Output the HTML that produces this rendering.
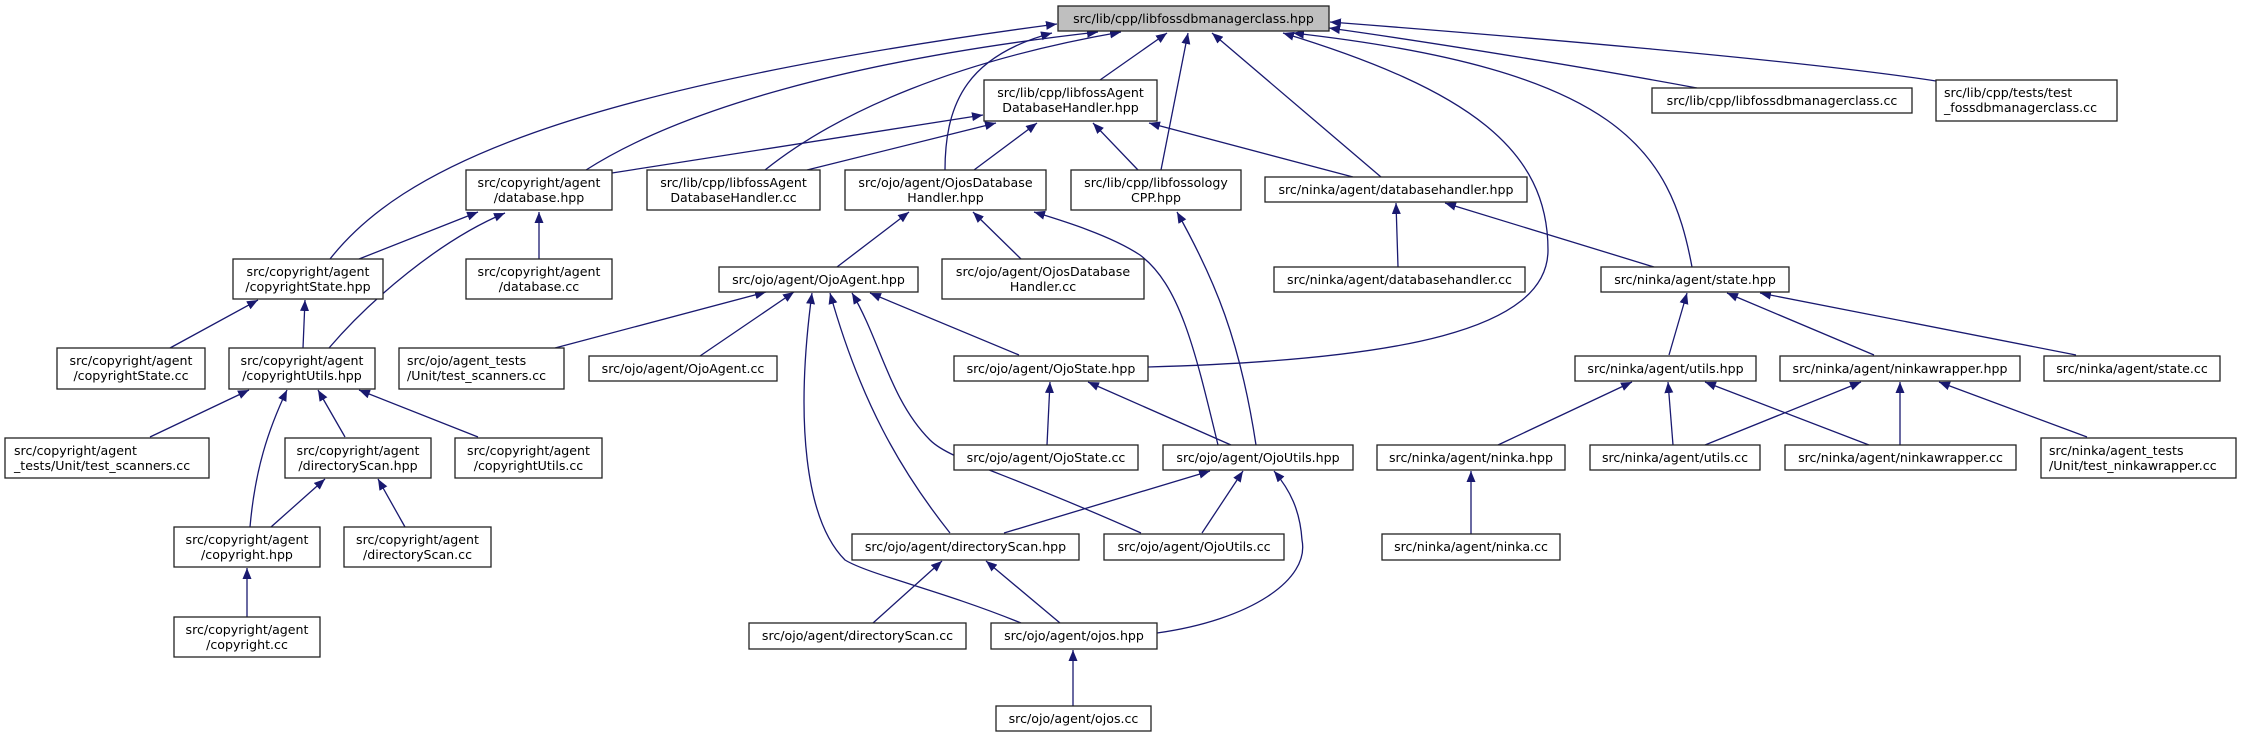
<!DOCTYPE html>
<html><head><meta charset="utf-8"><style>
html,body{margin:0;padding:0;background:#fff;}
svg{display:block;}
text{font-family:"DejaVu Sans","Liberation Sans",sans-serif;font-size:12.6px;fill:#000;}
.b{fill:#fff;stroke:#222;stroke-width:1.3;}
.e{fill:none;stroke:#191970;stroke-width:1.3;}
</style></head><body>
<svg width="2241" height="737" viewBox="0 0 2241 737" xmlns="http://www.w3.org/2000/svg">
<defs>
<marker id="a" markerUnits="userSpaceOnUse" markerWidth="12" markerHeight="10" refX="11" refY="4.5" orient="auto">
<path d="M0,0 L11,4.5 L0,9 z" fill="#191970"/>
</marker>
</defs>
<g class="e" marker-end="url(#a)">
<!-- to main -->
<path d="M330,259 C400,170 560,90 1057,24"/>
<path d="M586,170 C680,110 850,60 1098,32"/>
<path d="M765,170 C840,110 960,60 1121,32"/>
<path d="M945,170 C945,100 970,55 1052,33"/>
<path d="M1100,80 L1167,33"/>
<path d="M1161,170 L1188,33"/>
<path d="M1381,177 L1212,33"/>
<path d="M1148,367 C1400,360 1548,330 1548,250 C1548,150 1470,90 1283,33"/>
<path d="M1692,267 C1670,150 1620,70 1293,33"/>
<path d="M1697,88 C1600,70 1450,45 1329,28"/>
<path d="M1936,81 C1800,60 1500,35 1330,22"/>
<!-- to LH -->
<path d="M612,173 L983,115"/>
<path d="M807,170 L996,123"/>
<path d="M974,170 L1037,123"/>
<path d="M1138,170 L1093,123"/>
<path d="M1353,177 L1149,123"/>
<!-- DB -->
<path d="M359,259 L478,212"/>
<path d="M329,348 C370,300 440,240 505,213"/>
<path d="M539,259 L539,212"/>
<!-- CS -->
<path d="M170,348 L258,300"/>
<path d="M303,348 L305,300"/>
<!-- CU -->
<path d="M150,437 L249,390"/>
<path d="M250,527 C255,470 268,430 287,390"/>
<path d="M345,437 L318,390"/>
<path d="M478,437 L359,390"/>
<!-- CD -->
<path d="M271,527 L325,479"/>
<path d="M405,527 L378,479"/>
<path d="M247,617 L247,568"/>
<!-- OH -->
<path d="M837,267 L909,212"/>
<path d="M1021,259 L973,212"/>
<path d="M1218,445 C1195,350 1180,285 1140,255 C1110,235 1060,220 1034,212"/>
<path d="M1256,445 C1240,340 1215,280 1177,212"/>
<!-- OA -->
<path d="M555,348 L766,292"/>
<path d="M700,356 L794,292"/>
<path d="M1021,623 C940,590 870,575 845,560 C805,520 795,420 812,293"/>
<path d="M950,533 C900,470 860,400 830,293"/>
<path d="M1141,533 C1000,470 950,460 930,440 C890,400 880,340 852,293"/>
<path d="M1019,355 L870,293"/>
<!-- OS -->
<path d="M1047,445 L1050,382"/>
<path d="M1231,445 L1088,382"/>
<!-- OU -->
<path d="M1004,533 L1210,471"/>
<path d="M1202,533 L1243,471"/>
<path d="M1157,633 C1250,620 1310,580 1302,540 C1300,510 1290,490 1274,471"/>
<!-- ODS -->
<path d="M873,623 L942,561"/>
<path d="M1060,623 L986,561"/>
<path d="M1073,706 L1073,650"/>
<!-- ninka -->
<path d="M1398,267 L1396,203"/>
<path d="M1654,267 L1445,203"/>
<path d="M1669,355 L1687,293"/>
<path d="M1874,355 L1727,293"/>
<path d="M2076,355 L1760,293"/>
<path d="M1498,445 L1632,382"/>
<path d="M1673,445 L1668,382"/>
<path d="M1869,445 L1705,382"/>
<path d="M1705,445 L1861,382"/>
<path d="M1900,445 L1900,382"/>
<path d="M2087,437 L1939,382"/>
<path d="M1471,534 L1471,471"/>
</g>
<!-- nodes -->
<rect x="1058" y="6" width="271" height="25" fill="#bfbfbf" stroke="#222" stroke-width="1.3"/>
<text x="1193.5" y="23" text-anchor="middle">src/lib/cpp/libfossdbmanagerclass.hpp</text>
<g class="b">
<rect x="984" y="80" width="173" height="41"/>
<rect x="1652" y="88" width="260" height="25"/>
<rect x="1936" y="80" width="181" height="41"/>
<rect x="466" y="170" width="146" height="40"/>
<rect x="647" y="170" width="173" height="40"/>
<rect x="845" y="170" width="201" height="40"/>
<rect x="1071" y="170" width="170" height="40"/>
<rect x="1265" y="177" width="262" height="25"/>
<rect x="233" y="259" width="150" height="40"/>
<rect x="466" y="259" width="146" height="40"/>
<rect x="719" y="267" width="199" height="25"/>
<rect x="942" y="259" width="202" height="40"/>
<rect x="1274" y="267" width="251" height="25"/>
<rect x="1601" y="267" width="188" height="25"/>
<rect x="57" y="348" width="148" height="41"/>
<rect x="229" y="348" width="146" height="41"/>
<rect x="399" y="348" width="165" height="41"/>
<rect x="589" y="356" width="188" height="25"/>
<rect x="954" y="356" width="194" height="25"/>
<rect x="1575" y="356" width="181" height="25"/>
<rect x="1780" y="356" width="240" height="25"/>
<rect x="2044" y="356" width="176" height="25"/>
<rect x="5" y="438" width="204" height="40"/>
<rect x="285" y="438" width="146" height="40"/>
<rect x="455" y="438" width="147" height="40"/>
<rect x="954" y="445" width="184" height="25"/>
<rect x="1163" y="445" width="190" height="25"/>
<rect x="1377" y="445" width="188" height="25"/>
<rect x="1590" y="445" width="170" height="25"/>
<rect x="1785" y="445" width="231" height="25"/>
<rect x="2041" y="438" width="195" height="40"/>
<rect x="174" y="527" width="146" height="40"/>
<rect x="344" y="527" width="147" height="40"/>
<rect x="852" y="534" width="227" height="26"/>
<rect x="1104" y="534" width="180" height="26"/>
<rect x="1382" y="534" width="178" height="26"/>
<rect x="174" y="617" width="146" height="40"/>
<rect x="749" y="623" width="217" height="26"/>
<rect x="991" y="623" width="166" height="26"/>
<rect x="996" y="706" width="155" height="25"/>
</g>
<g text-anchor="middle">
<text x="1070.5" y="97">src/lib/cpp/libfossAgent</text><text x="1070.5" y="112">DatabaseHandler.hpp</text>
<text x="1782" y="105">src/lib/cpp/libfossdbmanagerclass.cc</text>
<text x="539" y="187">src/copyright/agent</text><text x="539" y="202">/database.hpp</text>
<text x="733.5" y="187">src/lib/cpp/libfossAgent</text><text x="733.5" y="202">DatabaseHandler.cc</text>
<text x="945.5" y="187">src/ojo/agent/OjosDatabase</text><text x="945.5" y="202">Handler.hpp</text>
<text x="1156" y="187">src/lib/cpp/libfossology</text><text x="1156" y="202">CPP.hpp</text>
<text x="1396" y="194">src/ninka/agent/databasehandler.hpp</text>
<text x="308" y="276">src/copyright/agent</text><text x="308" y="291">/copyrightState.hpp</text>
<text x="539" y="276">src/copyright/agent</text><text x="539" y="291">/database.cc</text>
<text x="818.5" y="284">src/ojo/agent/OjoAgent.hpp</text>
<text x="1043" y="276">src/ojo/agent/OjosDatabase</text><text x="1043" y="291">Handler.cc</text>
<text x="1399.5" y="284">src/ninka/agent/databasehandler.cc</text>
<text x="1695" y="284">src/ninka/agent/state.hpp</text>
<text x="131" y="365">src/copyright/agent</text><text x="131" y="380">/copyrightState.cc</text>
<text x="302" y="365">src/copyright/agent</text><text x="302" y="380">/copyrightUtils.hpp</text>
<text x="683" y="373">src/ojo/agent/OjoAgent.cc</text>
<text x="1051" y="373">src/ojo/agent/OjoState.hpp</text>
<text x="1665.5" y="373">src/ninka/agent/utils.hpp</text>
<text x="1900" y="373">src/ninka/agent/ninkawrapper.hpp</text>
<text x="2132" y="373">src/ninka/agent/state.cc</text>
<text x="358" y="455">src/copyright/agent</text><text x="358" y="470">/directoryScan.hpp</text>
<text x="528.5" y="455">src/copyright/agent</text><text x="528.5" y="470">/copyrightUtils.cc</text>
<text x="1046" y="462">src/ojo/agent/OjoState.cc</text>
<text x="1258" y="462">src/ojo/agent/OjoUtils.hpp</text>
<text x="1471" y="462">src/ninka/agent/ninka.hpp</text>
<text x="1675" y="462">src/ninka/agent/utils.cc</text>
<text x="1900.5" y="462">src/ninka/agent/ninkawrapper.cc</text>
<text x="247" y="544">src/copyright/agent</text><text x="247" y="559">/copyright.hpp</text>
<text x="417.5" y="544">src/copyright/agent</text><text x="417.5" y="559">/directoryScan.cc</text>
<text x="965.5" y="551">src/ojo/agent/directoryScan.hpp</text>
<text x="1194" y="551">src/ojo/agent/OjoUtils.cc</text>
<text x="1471" y="551">src/ninka/agent/ninka.cc</text>
<text x="247" y="634">src/copyright/agent</text><text x="247" y="649">/copyright.cc</text>
<text x="857.5" y="640">src/ojo/agent/directoryScan.cc</text>
<text x="1074" y="640">src/ojo/agent/ojos.hpp</text>
<text x="1073.5" y="723">src/ojo/agent/ojos.cc</text>
</g>
<g>
<text x="1944" y="97">src/lib/cpp/tests/test</text><text x="1944" y="112">_fossdbmanagerclass.cc</text>
<text x="407" y="365">src/ojo/agent_tests</text><text x="407" y="380">/Unit/test_scanners.cc</text>
<text x="14" y="455">src/copyright/agent</text><text x="14" y="470">_tests/Unit/test_scanners.cc</text>
<text x="2049" y="455">src/ninka/agent_tests</text><text x="2049" y="470">/Unit/test_ninkawrapper.cc</text>
</g>
</svg>
</body></html>
